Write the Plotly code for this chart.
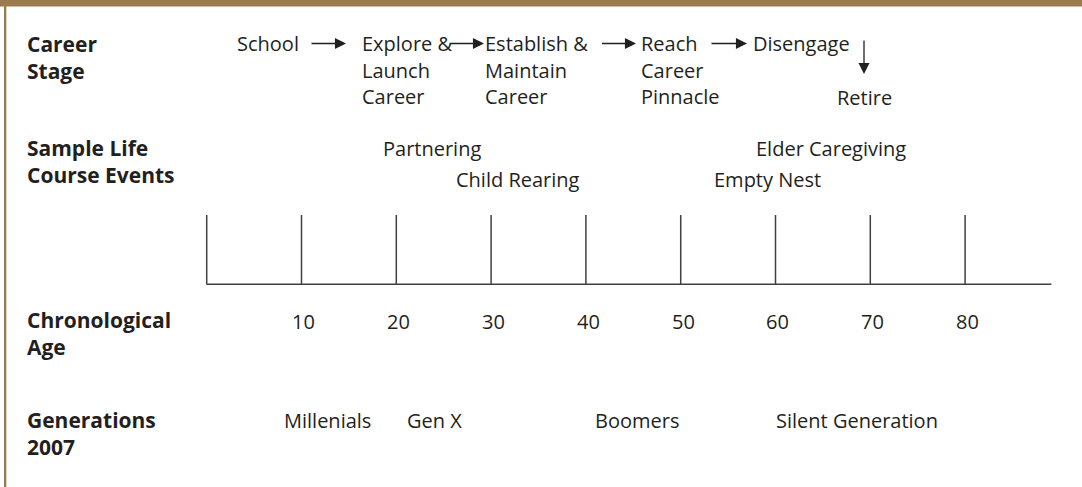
import plotly.graph_objects as go

# ---------------- data ----------------
row_labels = ["Career<br>Stage", "Sample Life<br>Course Events", "Chronological<br>Age", "Generations<br>2007"]
career_stages = [["School"], ["Explore &", "Launch", "Career"], ["Establish &", "Maintain", "Career"],
                 ["Reach", "Career", "Pinnacle"], ["Disengage"]]
final_stage = "Retire"
life_events_top = ["Partnering", "Elder Caregiving"]
life_events_bottom = ["Child Rearing", "Empty Nest"]
age_ticks = [0, 10, 20, 30, 40, 50, 60, 70, 80]
age_labels = ["10", "20", "30", "40", "50", "60", "70", "80"]
generations = ["Millenials", "Gen X", "Boomers", "Silent Generation"]

# ---------------- layout constants ----------------
W, H = 1082, 487
X0 = 206.7          # pixel of age 0
S = 9.48            # pixels per year
AGE_END = 89.1
PADX = 2.0          # annotation inner padding compensation


def a(px):
    """pixel column -> age units on the x axis"""
    return (px - X0) / S


FONT = "Open Sans"
FS = 20
FSB = 21
TXT = "#231f20"
LINE = "#404040"
BORDER = "#9a7b4f"

stage_x = [a(236.7 - PADX), a(361.7 - PADX), a(485 - PADX), a(641 - PADX), a(752.6 - PADX)]
line_y = [43.5, 70, 96.5]
retire_x, retire_y = a(864.5), 97.5
arrows = [(a(310), a(346)), (a(448), a(484)), (a(600.5), a(636)), (a(710), a(747))]
down_arrow_x, down_arrow_y = a(864), (39, 74)

events_top_x = [a(383 - PADX), a(756 - PADX)]
events_bot_x = [a(455.5 - PADX), a(714 - PADX)]
events_top_y, events_bot_y = 148, 179

gen_x = [a(284 - PADX), a(407 - PADX), a(595 - PADX), a(776 - PADX)]
gen_y = 420
tick_top, tick_base = 215, 284.3
age_label_y = 321

row_label_y = [(43.8, 71), (148, 175), (320, 347), (420, 447)]
row_label_x = 27.3 - PADX

fig = go.Figure()

# axis baseline + ticks
xs, ys = [], []
for t in age_ticks:
    xs += [t, t, None]
    ys += [tick_top, tick_base, None]
xs += [age_ticks[0], AGE_END]
ys += [tick_base, tick_base]
fig.add_trace(go.Scatter(x=xs, y=ys, mode="lines", line=dict(color=LINE, width=1.5),
                         hoverinfo="skip", showlegend=False))

ann = []


def txt(x, y, s, bold=False, xref="x", anchor="left"):
    ann.append(dict(x=x, y=y, xref=xref, yref="y", text=s, showarrow=False,
                    xanchor=anchor, yanchor="middle", align="left",
                    font=dict(family=FONT, size=FSB if bold else FS, color=TXT,
                              weight="bold" if bold else "normal")))


# row labels (split lines for exact spacing)
for lab, (y1, y2) in zip(row_labels, row_label_y):
    l1, l2 = lab.split("<br>")
    txt(row_label_x / W, y1, l1, bold=True, xref="paper")
    txt(row_label_x / W, y2, l2, bold=True, xref="paper")

# career stages
for lines, x in zip(career_stages, stage_x):
    for ln, y in zip(lines, line_y):
        txt(x, y, ln)
txt(retire_x, retire_y, final_stage, anchor="center")

for (xa, xb) in arrows:
    ann.append(dict(x=xb, y=43.5, ax=xa, ay=43.5, xref="x", yref="y", axref="x", ayref="y",
                    text="", showarrow=True, arrowhead=2, arrowsize=1.7, arrowwidth=1.3,
                    arrowcolor=TXT, standoff=0, startstandoff=0))
ann.append(dict(x=down_arrow_x, y=down_arrow_y[1], ax=down_arrow_x, ay=down_arrow_y[0],
                xref="x", yref="y", axref="x", ayref="y", text="", showarrow=True,
                arrowhead=2, arrowsize=1.7, arrowwidth=1.3, arrowcolor=TXT, standoff=0))

# life events
for s, x in zip(life_events_top, events_top_x):
    txt(x, events_top_y, s)
for s, x in zip(life_events_bottom, events_bot_x):
    txt(x, events_bot_y, s)

# age labels
for s, t in zip(age_labels, age_ticks[1:]):
    txt(t + 0.25, age_label_y, s, anchor="center")

# generations
for s, x in zip(generations, gen_x):
    txt(x, gen_y, s)

shapes = [
    dict(type="rect", xref="paper", yref="paper", x0=0, x1=1, y0=1 - 6.5 / H, y1=1,
         fillcolor=BORDER, line=dict(width=0), layer="above"),
    dict(type="rect", xref="paper", yref="paper", x0=4 / W, x1=6.3 / W, y0=0, y1=1,
         fillcolor=BORDER, line=dict(width=0), layer="above"),
]

fig.update_layout(
    width=W, height=H, autosize=False,
    margin=dict(l=0, r=0, t=0, b=0, pad=0),
    paper_bgcolor="white", plot_bgcolor="white",
    xaxis=dict(range=[a(0), a(W)], visible=False, fixedrange=True),
    yaxis=dict(range=[H, 0], visible=False, fixedrange=True),
    annotations=ann, shapes=shapes, showlegend=False,
)

fig.write_html("out.html", config={"displayModeBar": False},
               post_script="document.body.style.margin='0';document.body.style.overflow='hidden';")
